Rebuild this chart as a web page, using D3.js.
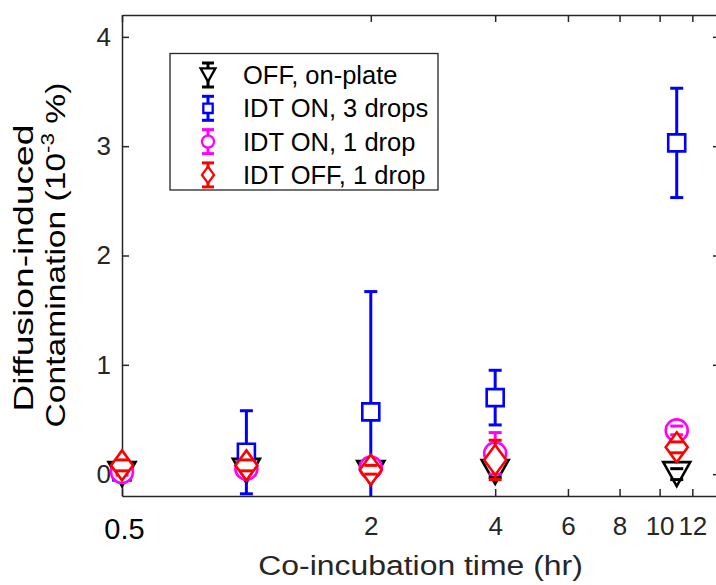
<!DOCTYPE html>
<html>
<head>
<meta charset="utf-8">
<script src="https://cdn.jsdelivr.net/npm/d3@7"></script>
<style>
  body { margin: 0; background: #fff; }
  svg { display: block; font-family: 'Liberation Sans', Arial, sans-serif; }
  .ax text { fill: #262626; font-size: 26px; }
  .ax line, .ax path { stroke: #262626; stroke-width: 1.5; }
</style>
</head>
<body>
<div id="chart"></div>
<script>
// co-incubation times (hr)
const times = [0.5, 1, 2, 4, 11]

// mean contamination (1e-3 %) and error half-widths per series
const offPlate      = [0.00, 0.03, 0.01, 0.02, 0.00]
const offPlateErr   = [0.03, 0.04, 0.03, 0.05, 0.05]
const on3Drops      = [0.02, 0.20, 0.57, 0.70, 3.03]
const on3DropsErr   = [0.03, 0.38, 1.10, 0.25, 0.50]
const on1Drop       = [0.02, 0.05, 0.06, 0.19, 0.40]
const on1DropErr    = [0.03, 0.04, 0.04, 0.19, 0.04]
const off1Drop      = [0.08, 0.08, 0.04, 0.13, 0.245]
const off1DropErr   = [0.05, 0.05, 0.04, 0.18, 0.05]

const seriesNames   = ['OFF, on-plate', 'IDT ON, 3 drops', 'IDT ON, 1 drop', 'IDT OFF, 1 drop']
const seriesColors  = ['#000000', '#0000ff', '#ff00ff', '#ff0000']
const seriesMarkers = ['triangle', 'square', 'circle', 'diamond']

const xTicks = [0.5, 2, 4, 6, 8, 10, 12]
const yTicks = [0, 1, 2, 3, 4]

const series = [
  [offPlate, offPlateErr],
  [on3Drops, on3DropsErr],
  [on1Drop, on1DropErr],
  [off1Drop, off1DropErr]
].map(([vals, errs], i) => ({
  name: seriesNames[i],
  color: seriesColors[i],
  marker: seriesMarkers[i],
  points: times.map((t, j) => ({ t, v: vals[j], e: errs[j] }))
}))

const W = 716, H = 585
const plot = { left: 122, top: 15, right: 720, bottom: 496 }

const x = d3.scaleLog().domain([0.5, 14]).range([plot.left, plot.right])
const y = d3.scaleLinear().domain([-0.2, 4.2]).range([plot.bottom, plot.top])

const svg = d3.select('#chart').append('svg')
  .attr('width', W).attr('height', H)

// marker path, centered at 0,0, scale k (1 = plot size)
function markerPath (type, k) {
  const p = d3.path()
  if (type === 'triangle') {
    const hw = 13.5 * k, hh = 12 * k
    p.moveTo(-hw, -hh); p.lineTo(hw, -hh); p.lineTo(0, hh); p.closePath()
  } else if (type === 'square') {
    const s = 8.5 * k
    p.rect(-s, -s, 2 * s, 2 * s)
  } else if (type === 'circle') {
    p.arc(0, 0, 11 * k, 0, 2 * Math.PI)
  } else {
    const hw = 11 * k, hh = 15 * k
    p.moveTo(0, -hh); p.lineTo(hw, 0); p.lineTo(0, hh); p.lineTo(-hw, 0); p.closePath()
  }
  return p.toString()
}

// axes
const tick = 7
svg.append('g').attr('class', 'ax')
  .attr('transform', `translate(0,${plot.bottom})`)
  .call(d3.axisBottom(x).tickValues(xTicks).tickFormat(d3.format('')).tickSize(-tick).tickSizeOuter(0).tickPadding(20.5))
  .call(ax => ax.selectAll('.tick').filter(d => d === 0.5).select('text')
    .style('fill', '#000').style('font-size', '29px').attr('dx', 2).attr('y', 22))

svg.append('g').attr('class', 'ax')
  .attr('transform', `translate(0,${plot.top})`)
  .call(d3.axisTop(x).tickValues(xTicks).tickFormat('').tickSize(-tick).tickSizeOuter(0))

svg.append('g').attr('class', 'ax')
  .attr('transform', `translate(${plot.left},0)`)
  .call(d3.axisLeft(y).tickValues(yTicks).tickFormat(d3.format('d')).tickSize(-tick).tickSizeOuter(0).tickPadding(11))

svg.append('g').attr('class', 'ax')
  .attr('transform', `translate(${plot.right},0)`)
  .call(d3.axisRight(y).tickValues(yTicks).tickFormat('').tickSize(-tick).tickSizeOuter(0))

svg.selectAll('.ax').attr('font-size', null).attr('font-family', null)

// data marks: error bars are cut at the bottom axis, markers may spill over
const marks = svg.append('g')
const cap = 6.5
series.forEach(s => {
  const g = marks.append('g')
  const pts = g.selectAll('g').data(s.points).join('g')
    .attr('transform', d => `translate(${x(d.t)},0)`)
  pts.append('line')
    .attr('x1', 0).attr('x2', 0)
    .attr('y1', d => Math.min(y(d.v - d.e), plot.bottom)).attr('y2', d => y(d.v + d.e))
    .attr('stroke', s.color).attr('stroke-width', 3)
  pts.append('path')
    .attr('d', markerPath(s.marker, 1))
    .attr('transform', d => `translate(0,${y(d.v)})`)
    .attr('fill', '#fff').attr('stroke', s.color).attr('stroke-width', 2.6)
  pts.selectAll('.cap').data(d => [d.v - d.e, d.v + d.e].filter(v => y(v) <= plot.bottom)).join('line')
    .attr('class', 'cap')
    .attr('x1', -cap).attr('x2', cap)
    .attr('y1', d => y(d)).attr('y2', d => y(d))
    .attr('stroke', s.color).attr('stroke-width', 3)
})

// legend
const lg = svg.append('g')
lg.append('rect')
  .attr('x', 170).attr('y', 53.5).attr('width', 268).attr('height', 136.5)
  .attr('fill', '#fff').attr('stroke', '#262626').attr('stroke-width', 1.3)
const rows = lg.selectAll('g.row').data(series).join('g')
  .attr('class', 'row')
  .attr('transform', (d, i) => `translate(0,${75 + i * 33.3})`)
rows.append('line')
  .attr('x1', 208).attr('x2', 208).attr('y1', -12).attr('y2', 12)
  .attr('stroke', d => d.color).attr('stroke-width', 3)
rows.append('path')
  .attr('transform', 'translate(208,0)')
  .attr('d', d => markerPath(d.marker, 0.55))
  .attr('fill', '#fff').attr('stroke', d => d.color).attr('stroke-width', 2.3)
rows.selectAll('.cap').data(d => [-12, 12].map(o => ({ o, c: d.color }))).join('line')
  .attr('class', 'cap')
  .attr('x1', 202).attr('x2', 214)
  .attr('y1', d => d.o).attr('y2', d => d.o)
  .attr('stroke', d => d.c).attr('stroke-width', 3)
rows.append('text')
  .attr('x', 243).attr('y', 9)
  .attr('font-size', 25.5).attr('fill', '#000')
  .text(d => d.name)

// axis labels (glyphs a little stretched along the reading direction, as in the source)
svg.append('text')
  .attr('transform', 'translate(420.5,575) scale(1.14,1)')
  .attr('text-anchor', 'middle').attr('font-size', 28).attr('fill', '#262626')
  .text('Co-incubation time (hr)')

const yl1 = svg.append('g').attr('transform', 'translate(33,268) rotate(-90) scale(1.38,1)')
yl1.append('text')
  .attr('text-anchor', 'middle').attr('font-size', 27).attr('fill', '#000')
  .text('Diffusion-induced')

const yl2 = svg.append('g').attr('transform', 'translate(65,255) rotate(-90) scale(1.245,1)')
const l2 = yl2.append('text')
  .attr('text-anchor', 'middle').attr('font-size', 27).attr('fill', '#000')
l2.append('tspan').text('Contamination (10')
l2.append('tspan').attr('font-size', 18).attr('dy', -11).text('-3')
l2.append('tspan').attr('dy', 11).text(' %)')
</script>
</body>
</html>
